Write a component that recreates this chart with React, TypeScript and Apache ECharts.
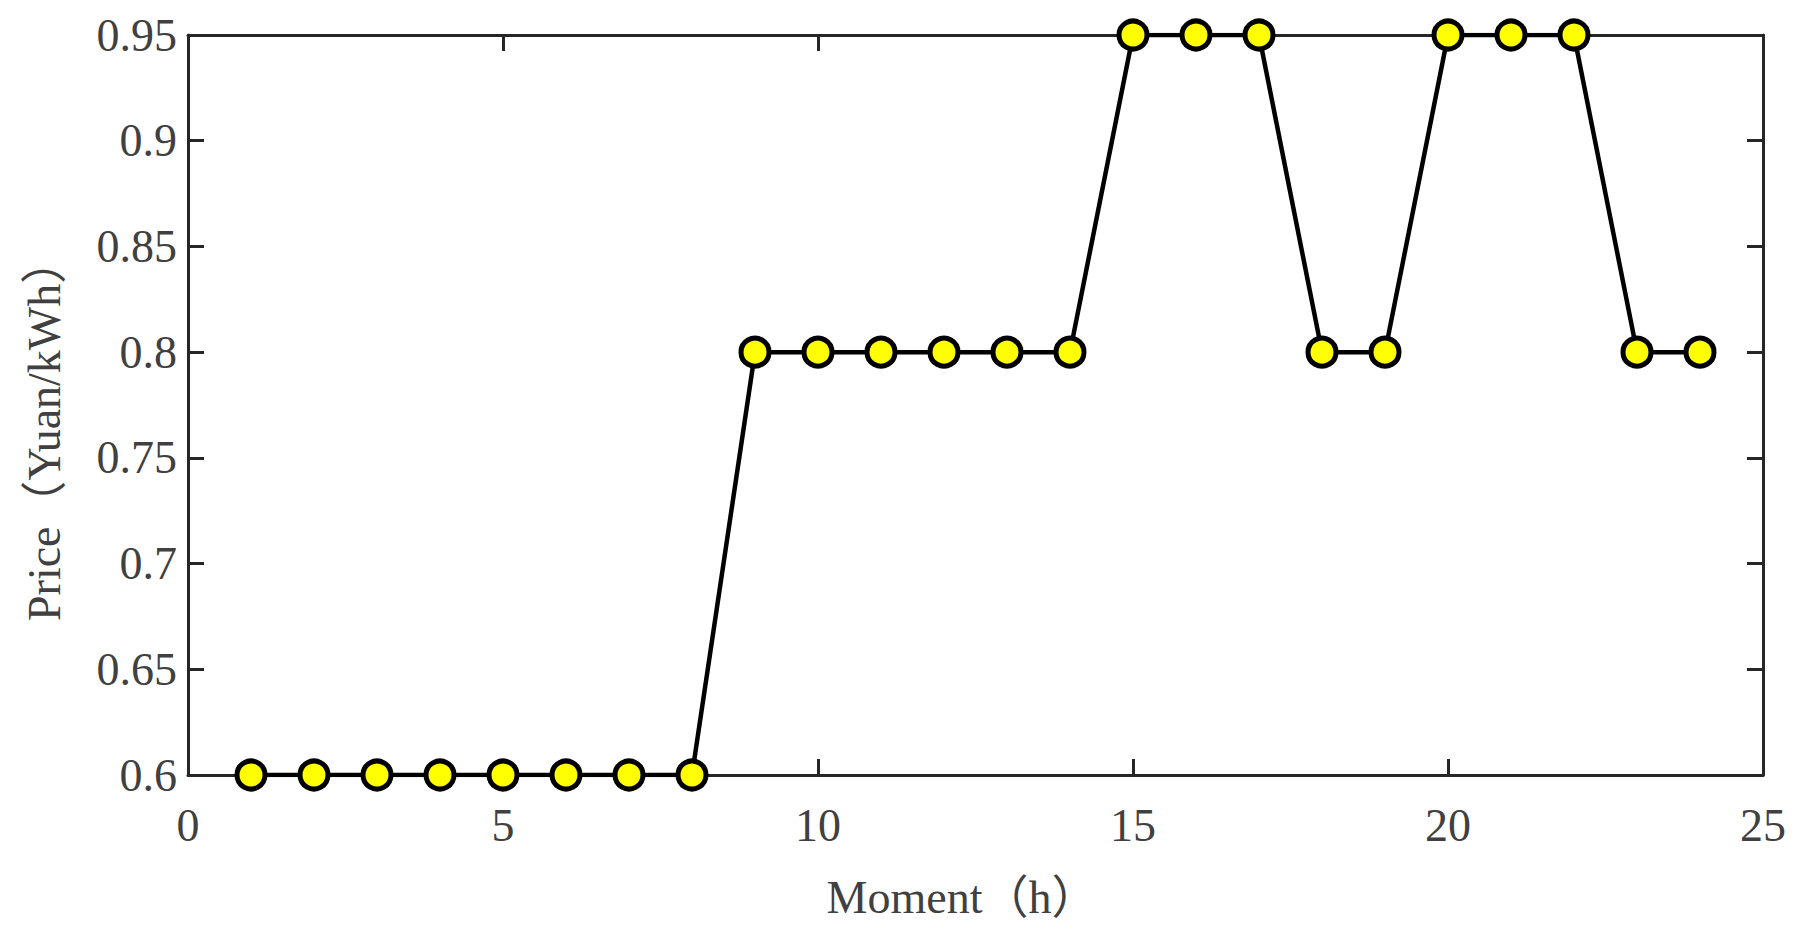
import React, { useEffect, useRef } from "react";
import * as echarts from "echarts";

const hours: number[] = [1, 2, 3, 4, 5, 6, 7, 8, 9, 10, 11, 12, 13, 14, 15, 16, 17, 18, 19, 20, 21, 22, 23, 24];
const prices: number[] = [0.6, 0.6, 0.6, 0.6, 0.6, 0.6, 0.6, 0.6, 0.8, 0.8, 0.8, 0.8, 0.8, 0.8, 0.95, 0.95, 0.95, 0.8, 0.8, 0.95, 0.95, 0.95, 0.8, 0.8];
const xTitle = "Moment（h）";
const yTitle = "Price（Yuan/kWh）";

const FONT = "'Liberation Serif', 'Noto Sans CJK SC', serif";
const AXIS_COLOR = "#262626";
const TEXT_COLOR = "#404040";
const FS = 46;

function axisLine() {
  return { show: true, onZero: false, lineStyle: { color: AXIS_COLOR, width: 3 } };
}
function axisTick() {
  return { show: true, inside: true, length: 16, lineStyle: { color: AXIS_COLOR, width: 3 } };
}

export default function App() {
  const ref = useRef<HTMLDivElement>(null);
  useEffect(() => {
    document.body.style.margin = "0";
    const chart = echarts.init(ref.current!, undefined, { renderer: "svg" });
    const labelStyle = { color: TEXT_COLOR, fontFamily: FONT, fontSize: FS };
    chart.setOption({
      animation: false,
      backgroundColor: "#ffffff",
      grid: { left: 188, top: 35, width: 1575, height: 740, containLabel: false },
      xAxis: [
        {
          type: "value", min: 0, max: 25, interval: 5, position: "bottom",
          axisLine: axisLine(), axisTick: axisTick(), splitLine: { show: false },
          axisLabel: { ...labelStyle, margin: 27 },
        },
        {
          type: "value", min: 0, max: 25, interval: 5, position: "top",
          axisLine: axisLine(), axisTick: axisTick(), splitLine: { show: false }, axisLabel: { show: false },
        },
      ],
      yAxis: [
        {
          type: "value", min: 0.6, max: 0.95, interval: 0.05, position: "left",
          axisLine: axisLine(), axisTick: axisTick(), splitLine: { show: false },
          axisLabel: { ...labelStyle, margin: 11, padding: [14, 0, 0, 0] },
        },
        {
          type: "value", min: 0.6, max: 0.95, interval: 0.05, position: "right",
          axisLine: axisLine(), axisTick: axisTick(), splitLine: { show: false }, axisLabel: { show: false },
        },
      ],
      graphic: [
        {
          type: "text", x: 962, y: 874,
          style: { text: xTitle, fill: TEXT_COLOR, font: `${FS}px ${FONT}`, align: "center", verticalAlign: "top" },
        },
        {
          type: "text", x: 21, y: 621, rotation: Math.PI / 2,
          style: { text: yTitle, fill: TEXT_COLOR, font: `${FS}px ${FONT}`, align: "left", verticalAlign: "top" },
        },
      ],
      series: [
        {
          type: "line",
          data: hours.map((h, i) => [h, prices[i]]),
          symbol: "circle",
          symbolSize: 28,
          lineStyle: { color: "#000000", width: 4.5 },
          itemStyle: { color: "#FFFF00", borderColor: "#000000", borderWidth: 5 },
          z: 5,
        },
      ],
    });
    return () => chart.dispose();
  }, []);
  return <div ref={ref} style={{ width: 1809, height: 929 }} />;
}
